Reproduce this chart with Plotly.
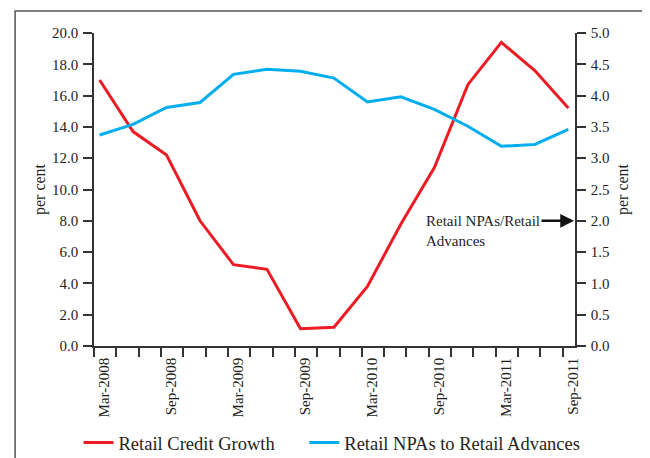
import plotly.graph_objects as go

quarters = ["Mar-2008", "Jun-2008", "Sep-2008", "Dec-2008", "Mar-2009", "Jun-2009",
            "Sep-2009", "Dec-2009", "Mar-2010", "Jun-2010", "Sep-2010", "Dec-2010",
            "Mar-2011", "Jun-2011", "Sep-2011"]
credit_growth = [17.0, 13.7, 12.2, 8.0, 5.2, 4.9, 1.1, 1.2, 3.8, 7.8, 11.4, 16.7, 19.4, 17.6, 15.2]
npa_ratio = [3.37, 3.54, 3.81, 3.89, 4.34, 4.42, 4.39, 4.28, 3.90, 3.98, 3.78, 3.51, 3.19, 3.22, 3.46]
label_quarters = quarters[::2]

RED = "#ED1C24"
BLUE = "#00AEEF"
TXT = "#231F20"
AX = "#333333"
FONT = "Liberation Serif"

x_pos = [3 * i for i in range(len(quarters))]
label_pos = [3 * quarters.index(q) + 0.4 for q in label_quarters]
minor_ticks = [-0.5 + 2 * k for k in range(22)]
xr = [-0.5, 42.6]

fig = go.Figure()
fig.add_trace(go.Scatter(x=x_pos, y=credit_growth, mode="lines", name="Retail Credit Growth",
                         line=dict(color=RED, width=3), yaxis="y", legend="legend"))
fig.add_trace(go.Scatter(x=x_pos, y=npa_ratio, mode="lines", name="Retail NPAs to Retail Advances",
                         line=dict(color=BLUE, width=3), yaxis="y2", legend="legend2"))

leg_common = dict(orientation="h", xanchor="left", y=-0.31, yanchor="middle",
                  font=dict(size=18.5, family=FONT, color=TXT), bgcolor="rgba(0,0,0,0)")

fig.update_layout(
    width=642, height=450,
    margin=dict(l=85.5, r=75, t=25, b=112, autoexpand=False),
    paper_bgcolor="white", plot_bgcolor="white",
    font=dict(family=FONT, size=15, color=TXT),
    showlegend=True,
    legend=dict(x=-0.0322, **leg_common),
    legend2=dict(x=0.4372, **leg_common),
    xaxis=dict(range=xr, tickvals=label_pos, ticktext=label_quarters, tickangle=-90,
               ticks="", showline=True, linecolor=AX, linewidth=1.5, showgrid=False,
               zeroline=False, tickfont=dict(size=15), fixedrange=True, ticklabelstandoff=4),
    xaxis2=dict(range=xr, overlaying="x", anchor="y", tickvals=minor_ticks, ticks="outside",
                ticklen=10, tickwidth=1.5, tickcolor=AX, showticklabels=False, showline=False,
                showgrid=False, zeroline=False, side="bottom"),
    yaxis=dict(range=[0, 20], dtick=2, tickformat=".1f", ticks="outside", ticklen=9,
               tickwidth=1.5, tickcolor=AX, showline=True, linecolor=AX, linewidth=1.5,
               showgrid=False, zeroline=False, tickfont=dict(size=15), ticklabelstandoff=2,
               title=dict(text="per cent", font=dict(size=16), standoff=2)),
    yaxis2=dict(range=[0, 5], dtick=0.5, tickformat=".1f", ticks="outside", ticklen=9,
                tickwidth=1.5, tickcolor=AX, showline=True, linecolor=AX, linewidth=1.5,
                showgrid=False, zeroline=False, overlaying="y", side="right", anchor="x",
                tickfont=dict(size=15), ticklabelstandoff=2,
                title=dict(text="per cent", font=dict(size=16), standoff=8)),
)

# invisible trace to activate the tick-mark axis
fig.add_trace(go.Scatter(x=[xr[0]], y=[0], xaxis="x2", yaxis="y", mode="markers",
                         marker=dict(opacity=0), showlegend=False, hoverinfo="skip"))

fig.add_annotation(text="Retail NPAs/Retail", x=xr[1], xref="x", y=2.0, yref="y2",
                   showarrow=True, ax=-92, ay=0, arrowhead=2, arrowsize=1.1, arrowwidth=2.5,
                   arrowcolor="#111111", font=dict(size=15, family=FONT, color=TXT),
                   standoff=1)
fig.add_annotation(text="Advances", x=0.686, xref="paper", xanchor="left", y=1.68, yref="y2",
                   yanchor="middle", showarrow=False, font=dict(size=15, family=FONT, color=TXT))

fig.add_shape(type="rect", xref="paper", yref="paper", x0=-0.164, x1=1.147, y0=-0.45, y1=1.07,
              line=dict(color="#555555", width=1.5), fillcolor="rgba(0,0,0,0)", layer="below")

fig.write_html("out.html")
